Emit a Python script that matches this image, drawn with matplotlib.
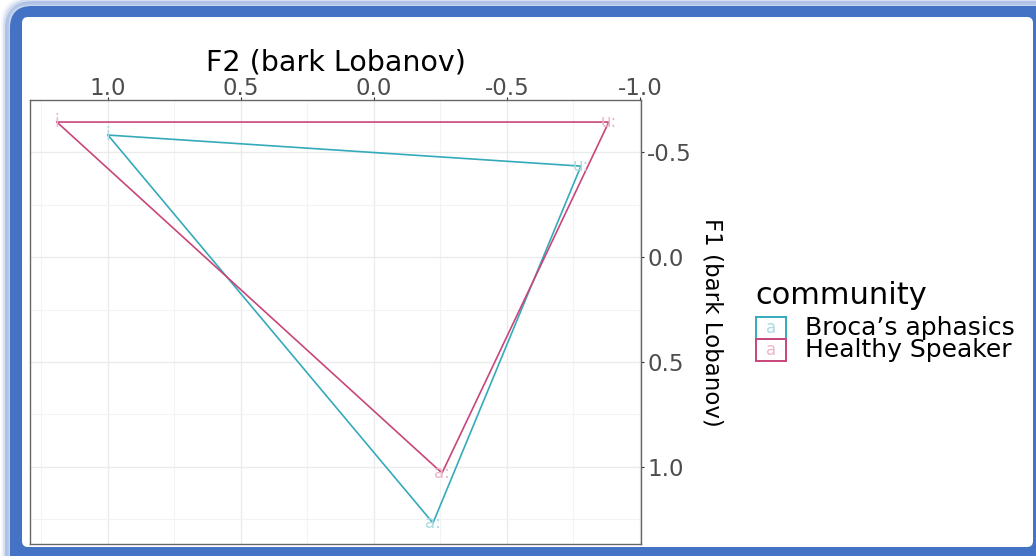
import matplotlib
matplotlib.use("Agg")
import matplotlib.pyplot as plt
from matplotlib.patches import FancyBboxPatch, Rectangle
from matplotlib.ticker import MultipleLocator

plt.rcParams['font.family'] = ['DejaVu Sans']
plt.rcParams['axes.unicode_minus'] = False

# vowel means per community (F2, F1 in bark Lobanov)
vowels = ["i", "u:", "a:"]
communities = ["Broca\u2019s aphasics", "Healthy Speaker"]
f2_broca = [1.0, -0.778, -0.222]
f1_broca = [-0.581, -0.433, 1.267]
f2_healthy = [1.192, -0.883, -0.256]
f1_healthy = [-0.643, -0.643, 1.029]
colors = ["#35aabb", "#c8467a"]
label_colors = ["#a9dbe2", "#ecb6c9"]

W, H = 1036, 556
fig = plt.figure(figsize=(W / 100, H / 100), dpi=100)

# background layer in pixel units for the blue frame
bg = fig.add_axes([0, 0, 1, 1], zorder=-1)
bg.set_xlim(0, W)
bg.set_ylim(H, 0)
bg.axis("off")
blue = "#4472c4"
# soft shadow outside top/left
for off, a in [(6, 0.08), (4, 0.15), (2, 0.3)]:
    bg.add_patch(FancyBboxPatch((10 - off, 6 - off), 1400, 1000,
                                boxstyle="round,pad=0,rounding_size=24",
                                facecolor="none", edgecolor=blue, lw=4,
                                alpha=a))
# solid border: rounded top-left, right and bottom edges fall near the image edge
bg.add_patch(FancyBboxPatch((10, 6), 1400, 1000,
                            boxstyle="round,pad=0,rounding_size=22",
                            facecolor=blue, edgecolor="none"))
bg.add_patch(FancyBboxPatch((22, 17), 1011, 530,
                            boxstyle="round,pad=0,rounding_size=6",
                            facecolor="white", edgecolor="none"))

ax = fig.add_axes([30 / W, 1 - 544 / H, (641 - 30) / W, (544 - 100) / H])

xs = [f2_broca, f2_healthy]
ys = [f1_broca, f1_healthy]
for k in range(2):
    ax.plot(xs[k] + xs[k][:1], ys[k] + ys[k][:1], color=colors[k], lw=1.2,
            zorder=3)
    for v, x, y in zip(vowels, xs[k], ys[k]):
        ax.text(x, y, v, color=label_colors[k], fontsize=12, ha="center",
                va="center", zorder=4)

ax.set_xlim(1.293, -1.004)
ax.set_ylim(1.367, -0.748)
ax.xaxis.set_major_locator(MultipleLocator(0.5))
ax.xaxis.set_minor_locator(MultipleLocator(0.25))
ax.yaxis.set_major_locator(MultipleLocator(0.5))
ax.yaxis.set_minor_locator(MultipleLocator(0.25))
ax.xaxis.tick_top()
ax.yaxis.tick_right()
ax.grid(which="major", color="#ebebeb", lw=1.0)
ax.grid(which="minor", color="#f3f3f3", lw=0.8)
ax.set_axisbelow(True)
ax.tick_params(which="major", length=2.5, width=0.8, color="#333333",
               labelsize=16.5, labelcolor="#4d4d4d", pad=2)
ax.tick_params(axis="x", which="major", pad=-2.5)
ax.tick_params(which="minor", length=0)
for s in ax.spines.values():
    s.set_color("#666666")
    s.set_linewidth(1.0)

ax.set_xlabel("F2 (bark Lobanov)", fontsize=20.5, va="center")
ax.xaxis.set_label_coords(0.5, (544 - 62) / 444)
ax.set_ylabel("F1 (bark Lobanov)", fontsize=16.5, rotation=270, va="center",
              ha="center")
ax.yaxis.set_label_coords((712 - 30) / 611, 0.5)

# legend
fig.text(755 / W, 1 - 295 / H, "community", fontsize=22, ha="left",
         va="center")
for k, name in enumerate(communities):
    top = 317 + 22 * k
    fig.patches.append(Rectangle((756 / W, 1 - (top + 22) / H), 30 / W, 22 / H,
                                 transform=fig.transFigure, fill=False,
                                 edgecolor=colors[k], lw=1.4))
    fig.text(771 / W, 1 - (top + 11) / H, "a", color=label_colors[k],
             fontsize=12, ha="center", va="center")
    fig.text(805 / W, 1 - (top + 11) / H, name, fontsize=18, ha="left",
             va="center")

fig.savefig("out.png", dpi=100)
